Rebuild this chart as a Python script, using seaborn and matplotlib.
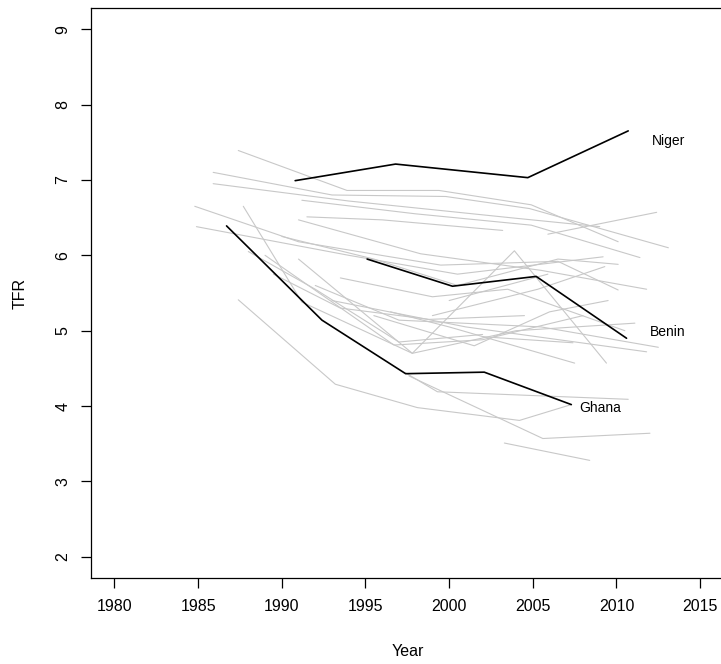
import numpy as np
import pandas as pd
import matplotlib
matplotlib.use("Agg")
import matplotlib.pyplot as plt
import seaborn as sns

# ---- highlighted countries ----
niger_year = [1990.8, 1996.8, 2004.7, 2010.7]
niger_tfr = [6.99, 7.21, 7.03, 7.65]
benin_year = [1995.1, 2000.2, 2005.2, 2010.6]
benin_tfr = [5.95, 5.59, 5.72, 4.90]
ghana_year = [1986.7, 1992.4, 1997.4, 2002.1, 2007.3]
ghana_tfr = [6.39, 5.14, 4.43, 4.45, 4.02]

# ---- other countries (grey) ----
g01_year = [1987.4, 1993.9, 1999.4, 2004.9, 2010.1]
g01_tfr = [7.39, 6.86, 6.86, 6.67, 6.18]
g02_year = [1985.9, 1993.0, 1999.8, 2004.8, 2013.1]
g02_tfr = [7.10, 6.80, 6.78, 6.62, 6.10]
g03_year = [1985.9, 1994.0, 2003.6, 2009.0]
g03_tfr = [6.95, 6.72, 6.50, 6.38]
g04_year = [1991.2, 1998.0, 2004.9, 2011.4]
g04_tfr = [6.73, 6.55, 6.40, 5.97]
g05_year = [1991.5, 1996.0, 2003.2]
g05_tfr = [6.51, 6.47, 6.33]
g06_year = [2005.9, 2012.4]
g06_tfr = [6.28, 6.57]
g07_year = [1984.8, 1991.0, 1999.5, 2006.5, 2010.1]
g07_tfr = [6.65, 6.18, 5.87, 5.92, 5.54]
g08_year = [1984.9, 1994.0, 2000.5, 2009.2]
g08_tfr = [6.38, 6.00, 5.75, 5.98]
g09_year = [1987.7, 1991.2, 1997.8, 2003.9, 2009.4]
g09_tfr = [6.65, 5.38, 4.70, 6.06, 4.57]
g10_year = [1991.0, 1998.3, 2005.5, 2011.8]
g10_tfr = [6.47, 6.02, 5.80, 5.55]
g11_year = [1989.0, 1996.7, 2002.0, 2008.0]
g11_tfr = [6.00, 4.81, 4.88, 5.20]
g12_year = [1991.0, 1997.8, 2004.0, 2011.1]
g12_tfr = [5.95, 4.70, 5.00, 5.10]
g13_year = [1992.0, 1997.0, 2005.5, 2012.5]
g13_tfr = [5.60, 5.14, 5.05, 4.78]
g14_year = [1993.0, 2001.0, 2011.8]
g14_tfr = [5.40, 5.05, 4.72]
g15_year = [1987.4, 1993.2, 1998.1, 2004.2, 2007.3]
g15_tfr = [5.41, 4.29, 3.98, 3.81, 4.02]
g16_year = [1997.4, 1999.3, 2010.7]
g16_tfr = [4.44, 4.19, 4.09]
g17_year = [1997.6, 2005.6, 2012.0]
g17_tfr = [4.40, 3.57, 3.64]
g18_year = [2003.3, 2008.4]
g18_tfr = [3.51, 3.28]
g19_year = [1990.0, 1995.5, 2000.5, 2006.5, 2010.1]
g19_tfr = [6.25, 5.95, 5.60, 5.95, 5.88]
g20_year = [2000.0, 2005.9]
g20_tfr = [5.40, 5.75]
g21_year = [1996.5, 2000.0, 2007.5]
g21_tfr = [5.25, 5.05, 4.57]
g22_year = [2002.0, 2007.4]
g22_tfr = [4.92, 4.84]
g23_year = [1999.0, 2005.3, 2009.3]
g23_tfr = [5.20, 5.55, 5.85]
g24_year = [1995.5, 2001.5, 2006.0, 2009.5]
g24_tfr = [5.20, 4.80, 5.25, 5.40]
g25_year = [1993.5, 1999.0, 2003.5, 2010.5]
g25_tfr = [5.70, 5.45, 5.55, 5.00]
g26_year = [1988.0, 1992.0, 1997.0, 2002.0]
g26_tfr = [6.05, 5.55, 4.85, 4.95]
g27_year = [1989.5, 1993.5, 1998.8, 2004.5]
g27_tfr = [5.75, 5.30, 5.15, 5.20]

grey_years = [g01_year, g02_year, g03_year, g04_year, g05_year, g06_year, g07_year,
              g08_year, g09_year, g10_year, g11_year, g12_year, g13_year, g14_year,
              g15_year, g16_year, g17_year, g18_year, g19_year, g20_year, g21_year,
              g22_year, g23_year, g24_year, g25_year, g26_year, g27_year]
grey_tfrs = [g01_tfr, g02_tfr, g03_tfr, g04_tfr, g05_tfr, g06_tfr, g07_tfr,
             g08_tfr, g09_tfr, g10_tfr, g11_tfr, g12_tfr, g13_tfr, g14_tfr,
             g15_tfr, g16_tfr, g17_tfr, g18_tfr, g19_tfr, g20_tfr, g21_tfr,
             g22_tfr, g23_tfr, g24_tfr, g25_tfr, g26_tfr, g27_tfr]

x_ticks = [1980, 1985, 1990, 1995, 2000, 2005, 2010, 2015]
y_ticks = [2, 3, 4, 5, 6, 7, 8, 9]

rows = []
for i, (ys, vs) in enumerate(zip(grey_years, grey_tfrs)):
    for y, v in zip(ys, vs):
        rows.append(("c%02d" % i, y, v))
grey_df = pd.DataFrame(rows, columns=["country", "year", "tfr"])

hl = []
for name, ys, vs in [("Niger", niger_year, niger_tfr),
                     ("Benin", benin_year, benin_tfr),
                     ("Ghana", ghana_year, ghana_tfr)]:
    for y, v in zip(ys, vs):
        hl.append((name, y, v))
hl_df = pd.DataFrame(hl, columns=["country", "year", "tfr"])

sns.set_style("white")
plt.rcParams["font.family"] = ["Liberation Sans", "DejaVu Sans"]
plt.rcParams["text.color"] = "black"
plt.rcParams["axes.labelcolor"] = "black"

fig = plt.figure(figsize=(7.21, 6.64), dpi=100)
ax = fig.add_axes([91 / 721, 1 - 578 / 664, 632.6 / 721, 570 / 664])

sns.lineplot(data=grey_df, x="year", y="tfr", units="country", estimator=None,
             color="#c8c8c8", linewidth=0.8, sort=False, ax=ax, legend=False)
sns.lineplot(data=hl_df, x="year", y="tfr", units="country", estimator=None,
             color="black", linewidth=1.2, sort=False, ax=ax, legend=False)

ax.text(2012.1, 7.52, "Niger", fontsize=10, ha="left", va="center", color="black")
ax.text(2012.0, 4.98, "Benin", fontsize=10, ha="left", va="center", color="black")
ax.text(2007.8, 3.98, "Ghana", fontsize=10, ha="left", va="center", color="black")

ax.set_xlim(1980 - 0.04 * 35, 2015 + 0.04 * 35)
ax.set_ylim(2 - 0.04 * 7, 9 + 0.04 * 7)
ax.set_xticks(x_ticks)
ax.set_yticks(y_ticks)
ax.set_xticklabels([str(t) for t in x_ticks])
ax.set_yticklabels([str(t) for t in y_ticks], rotation=90, va="center")
ax.tick_params(axis="both", direction="out", length=7, width=0.9, color="black",
               labelsize=11.5, labelcolor="black", bottom=True, left=True,
               top=False, right=False)
ax.tick_params(axis="x", pad=8)
ax.tick_params(axis="y", pad=8)
for s in ax.spines.values():
    s.set_visible(True)
    s.set_color("black")
    s.set_linewidth(0.9)
ax.set_xlabel("Year", fontsize=11.5, labelpad=22, color="black")
ax.set_ylabel("TFR", fontsize=11.5, labelpad=20, color="black")

fig.savefig("out.png", dpi=100)
